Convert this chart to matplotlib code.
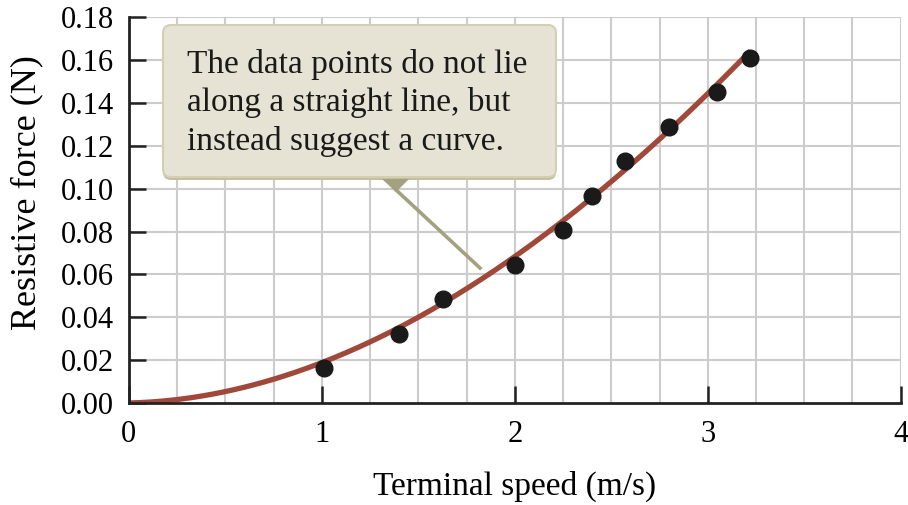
import numpy as np
import matplotlib
matplotlib.use("Agg")
import matplotlib.pyplot as plt
from matplotlib.patches import FancyBboxPatch, Polygon
from matplotlib.lines import Line2D

# Terminal speed of falling coffee filters and the resistive force on them
speed = [1.01, 1.40, 1.63, 2.00, 2.25, 2.40, 2.57, 2.80, 3.05, 3.22]
force = [0.0161, 0.0322, 0.0483, 0.0644, 0.0805, 0.0966, 0.1127, 0.1288, 0.1449, 0.1610]

# trend curve read at a few speeds; smoothed with a cubic through the origin
curve_speed = [0, 0.25, 0.5, 0.75, 1.0, 1.25, 1.5, 1.75, 2.0, 2.25, 2.5, 2.75, 3.0, 3.22]
curve_force = [0, 0.0027, 0.0069, 0.0127, 0.0197, 0.0283, 0.0385, 0.0510, 0.0655,
               0.0850, 0.1060, 0.1260, 0.1460, 0.1610]

x_ticks = [0, 1, 2, 3, 4]
y_ticks = [0.00, 0.02, 0.04, 0.06, 0.08, 0.10, 0.12, 0.14, 0.16, 0.18]
y_labels = ["0.00", "0.02", "0.04", "0.06", "0.08", "0.10", "0.12", "0.14", "0.16", "0.18"]
note_lines = ["The data points do not lie",
              "along a straight line, but",
              "instead suggest a curve."]

plt.rcParams["font.family"] = ["Liberation Serif", "DejaVu Serif"]

fig = plt.figure(figsize=(9.08, 5.05), dpi=100)
ax = fig.add_axes([0.142, 0.202, 0.850, 0.764])

ax.set_xlim(0, 4)
ax.set_ylim(0, 0.18)

# light grid every 0.25 m/s and every 0.02 N
for gx in np.arange(0.25, 4.01, 0.25):
    ax.axvline(gx, color="#cccccc", lw=1.5, zorder=0)
for gy in y_ticks[1:]:
    ax.axhline(gy, color="#cccccc", lw=1.5, zorder=0)

cs = np.array(curve_speed)
cf = np.array(curve_force)
A = np.vstack([cs, cs**2, cs**3]).T
coef, *_ = np.linalg.lstsq(A, cf, rcond=None)
vv = np.linspace(0, cs.max(), 300)
ax.plot(vv, coef[0] * vv + coef[1] * vv**2 + coef[2] * vv**3,
        color="#a0483a", lw=3.8, zorder=2, solid_capstyle="butt")
ax.plot(speed, force, "o", color="#1a1a1a", ms=12, zorder=3)

for s in ["top", "right"]:
    ax.spines[s].set_visible(False)
for s in ["left", "bottom"]:
    ax.spines[s].set_linewidth(2)
    ax.spines[s].set_color("#222222")
    ax.spines[s].set_zorder(4)

ax.set_xticks(x_ticks)
ax.set_xticklabels([str(t) for t in x_ticks])
ax.set_yticks(y_ticks)
ax.set_yticklabels(y_labels)
ax.tick_params(axis="both", which="major", direction="in", length=12, width=1.8,
               color="#222222", labelsize=22)
ax.tick_params(axis="x", pad=12)
ax.tick_params(axis="y", pad=11)

ax.set_xlabel("Terminal speed (m/s)", fontsize=24)
ax.set_ylabel("Resistive force (N)", fontsize=26)
ax.xaxis.set_label_coords(0.5, -0.176)
ax.yaxis.set_label_coords(-0.111, 0.545)

# callout box with pointer
tr = fig.dpi_scale_trans
shadow = FancyBboxPatch((1.63, 3.25), 3.93, 1.52,
                        boxstyle="round,pad=0,rounding_size=0.08",
                        facecolor="#c3bf9f", edgecolor="none", transform=tr, zorder=5)
box = FancyBboxPatch((1.63, 3.28), 3.93, 1.52,
                     boxstyle="round,pad=0,rounding_size=0.08",
                     facecolor="#e6e3d4", edgecolor="#d3cfb5", lw=1.5,
                     transform=tr, zorder=6)
fig.add_artist(shadow)
fig.add_artist(box)
fig.add_artist(Polygon([(3.82, 3.26), (4.09, 3.26), (3.96, 3.13)], closed=True,
                       facecolor="#a3a17f", edgecolor="none", transform=tr, zorder=6))
fig.add_artist(Line2D([3.94, 4.80], [3.17, 2.37], color="#a3a17f", lw=2.6,
                      transform=tr, zorder=6))
for i, line in enumerate(note_lines):
    fig.text(1.87, 4.32 - 0.385 * i, line, transform=tr, fontsize=24,
             color="#1a1a1a", va="baseline", ha="left", zorder=7)

fig.savefig("out.png", dpi=100)
